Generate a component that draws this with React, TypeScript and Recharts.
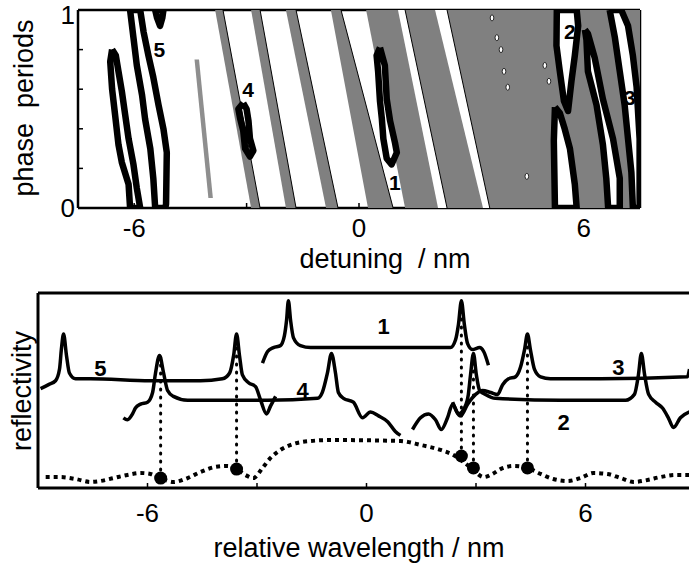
import React from 'react';
import {
  ScatterChart,
  Scatter,
  ComposedChart,
  Line,
  XAxis,
  YAxis,
  ReferenceDot,
  ReferenceLine,
} from 'recharts';

const FONT = '"Liberation Sans", Arial, Helvetica, sans-serif';
const GRAY = '#808080';

type P = [number, number];

// ---------- top panel: detuning vs phase map ----------
const xTicks = [-6, -3, 0, 3, 6];
const xLabeled = [-6, 0, 6];
const phaseTicks = [0, 0.2, 0.4, 0.6, 0.8, 1];

// gray bands in the white part (corners: top-left, top-right, bottom-right, bottom-left)
const shortStripe: P[] = [[-4.39, 0.75], [-4.27, 0.75], [-3.9, 0.05], [-4.02, 0.05]];
const grayStripes: P[][] = [
  [[-3.84, 1], [-3.63, 1], [-2.64, 0], [-2.88, 0]],
  [[-2.88, 1], [-2.64, 1], [-1.68, 0], [-1.95, 0]],
  [[-1.95, 1], [-1.68, 1], [-0.56, 0], [-0.88, 0]],
  [[-0.75, 1], [-0.48, 1], [0.91, 0], [0.24, 0]],
];
const grayField: P[] = [[0.19, 1], [7.5, 1], [7.5, 0], [1.23, 0]];
const whiteStripes: P[][] = [
  [[1.04, 1], [1.23, 1], [2.35, 0], [2.11, 0]],
  [[2.03, 1], [2.35, 1], [3.49, 0], [3.31, 0]],
];
const specks: P[] = [[3.55, 0.96], [3.68, 0.86], [3.79, 0.8], [3.87, 0.69], [3.97, 0.61], [4.96, 0.72], [5.07, 0.64], [4.48, 0.16]];

// thick contour loops
const contour5a: P[] = [[-6.59, 0.8], [-6.49, 0.77], [-6.42, 0.69], [-6.33, 0.59], [-6.24, 0.47], [-6.15, 0.35], [-6.02, 0.22], [-5.93, 0.1], [-5.84, 0], [-6.11, 0], [-6.15, 0.12], [-6.33, 0.23], [-6.42, 0.32], [-6.51, 0.47], [-6.59, 0.6], [-6.64, 0.74], [-6.59, 0.8]];
const contour5b: P[] = [[-6.11, 1], [-5.84, 1], [-5.75, 0.89], [-5.62, 0.77], [-5.49, 0.66], [-5.35, 0.52], [-5.22, 0.4], [-5.13, 0.28], [-5.15, 0.02], [-5.17, 0], [-5.44, 0], [-5.49, 0.15], [-5.57, 0.3], [-5.71, 0.45], [-5.79, 0.57], [-5.93, 0.72], [-6.02, 0.86], [-6.11, 1]];
const contour5c: P[] = [[-5.44, 1], [-5.22, 1], [-5.25, 0.96], [-5.31, 0.92], [-5.39, 0.96], [-5.44, 1]];
const contour4: P[] = [[-3.09, 0.53], [-3.22, 0.5], [-3.17, 0.45], [-3.09, 0.39], [-3.04, 0.3], [-2.91, 0.26], [-2.82, 0.29], [-2.91, 0.35], [-2.95, 0.44], [-3.0, 0.5], [-3.09, 0.53]];
const contour1: P[] = [[0.56, 0.81], [0.69, 0.72], [0.74, 0.55], [0.83, 0.44], [0.96, 0.33], [1.01, 0.28], [0.87, 0.22], [0.74, 0.25], [0.65, 0.35], [0.61, 0.45], [0.56, 0.54], [0.51, 0.69], [0.47, 0.77], [0.56, 0.81]];
const contour2a: P[] = [[5.28, 1], [5.81, 1], [5.85, 0.92], [5.76, 0.77], [5.67, 0.64], [5.58, 0.49], [5.47, 0.54], [5.36, 0.69], [5.27, 0.82], [5.28, 1]];
const contour2b: P[] = [[5.23, 0.51], [5.36, 0.48], [5.49, 0.4], [5.63, 0.3], [5.76, 0.12], [5.81, 0], [5.23, 0], [5.2, 0.34], [5.23, 0.51]];
const contourV: P[] = [[6.03, 0.9], [6.11, 0.88], [6.29, 0.76], [6.51, 0.55], [6.78, 0.35], [6.96, 0.15], [6.96, 0], [6.65, 0], [6.6, 0.15], [6.51, 0.32], [6.34, 0.52], [6.11, 0.69], [6.07, 0.85], [6.03, 0.9]];
const contour3: P[] = [[6.69, 1], [7.0, 1], [7.18, 0.92], [7.31, 0.77], [7.41, 0.61], [7.49, 0.35], [7.49, 0], [7.31, 0], [7.27, 0.18], [7.18, 0.35], [7.09, 0.52], [6.96, 0.69], [6.83, 0.86], [6.69, 1]];

const topLabels: [string, number, number][] = [['5', -5.33, 0.8], ['4', -2.96, 0.6], ['1', 0.96, 0.13], ['2', 5.63, 0.89], ['3', 7.23, 0.56]];

// ---------- bottom panel: reflectivity spectra ----------
const curve5: P[] = [[-8.93, 0.51], [-8.71, 0.53], [-8.52, 0.55], [-8.41, 0.61], [-8.36, 0.71], [-8.3, 0.79], [-8.22, 0.68], [-8.14, 0.59], [-7.97, 0.56], [-7.56, 0.56], [-5.92, 0.55], [-4.55, 0.55], [-3.95, 0.56], [-3.75, 0.59], [-3.64, 0.68], [-3.56, 0.79], [-3.48, 0.68], [-3.4, 0.58], [-3.23, 0.54], [-3.04, 0.52], [-2.9, 0.45], [-2.74, 0.38], [-2.63, 0.42], [-2.49, 0.47]];
const curve4: P[] = [[-6.66, 0.36], [-6.55, 0.35], [-6.41, 0.38], [-6.33, 0.41], [-6.19, 0.43], [-6.0, 0.44], [-5.86, 0.49], [-5.78, 0.59], [-5.67, 0.68], [-5.56, 0.59], [-5.45, 0.5], [-5.29, 0.47], [-4.9, 0.45], [-2.71, 0.45], [-1.34, 0.46], [-1.21, 0.49], [-1.07, 0.59], [-0.96, 0.69], [-0.85, 0.59], [-0.77, 0.49], [-0.63, 0.46], [-0.36, 0.44], [-0.11, 0.36], [0.11, 0.39], [0.33, 0.37], [0.58, 0.34], [0.79, 0.29], [0.93, 0.27]];
const curve1: P[] = [[-2.85, 0.64], [-2.71, 0.7], [-2.55, 0.72], [-2.36, 0.73], [-2.25, 0.78], [-2.19, 0.86], [-2.14, 0.96], [-2.08, 0.86], [-2.0, 0.77], [-1.81, 0.73], [-1.53, 0.72], [2.3, 0.72], [2.44, 0.76], [2.52, 0.84], [2.6, 0.96], [2.68, 0.84], [2.77, 0.74], [2.9, 0.71], [3.1, 0.72], [3.21, 0.7], [3.34, 0.63]];
const curve2: P[] = [[1.26, 0.3], [1.48, 0.36], [1.7, 0.38], [1.89, 0.35], [2.05, 0.3], [2.22, 0.36], [2.36, 0.43], [2.52, 0.38], [2.68, 0.41], [2.79, 0.48], [2.85, 0.58], [2.93, 0.69], [3.01, 0.58], [3.1, 0.5], [3.26, 0.48], [3.53, 0.46], [5.32, 0.45], [7.1, 0.45], [7.34, 0.48], [7.45, 0.58], [7.53, 0.69], [7.62, 0.58], [7.73, 0.48], [7.92, 0.44], [8.11, 0.41], [8.27, 0.36], [8.41, 0.31], [8.6, 0.36], [8.85, 0.39]];
const curve3: P[] = [[2.36, 0.44], [2.58, 0.37], [2.77, 0.43], [2.99, 0.48], [3.18, 0.5], [3.4, 0.49], [3.59, 0.48], [3.73, 0.53], [3.89, 0.56], [4.08, 0.57], [4.22, 0.62], [4.33, 0.71], [4.41, 0.79], [4.49, 0.71], [4.6, 0.61], [4.77, 0.57], [5.04, 0.56], [6.41, 0.56], [8.79, 0.57], [8.85, 0.61]];
const baseCurve: P[] = [[-8.79, 0.056], [-8.38, 0.056], [-7.97, 0.046], [-7.56, 0.031], [-7.29, 0.036], [-6.93, 0.051], [-6.55, 0.067], [-6.19, 0.077], [-5.92, 0.072], [-5.64, 0.051], [-5.29, 0.031], [-4.9, 0.051], [-4.55, 0.082], [-4.14, 0.108], [-3.81, 0.113], [-3.56, 0.097], [-3.32, 0.067], [-3.1, 0.051], [-2.85, 0.103], [-2.63, 0.154], [-2.36, 0.195], [-2.0, 0.226], [-1.53, 0.241], [-0.99, 0.246], [0.93, 0.241], [1.48, 0.221], [2.03, 0.195], [2.38, 0.169], [2.66, 0.133], [2.93, 0.092], [3.21, 0.056], [3.45, 0.072], [3.67, 0.097], [4.03, 0.113], [4.41, 0.103], [4.77, 0.072], [5.12, 0.046], [5.51, 0.036], [5.86, 0.051], [6.22, 0.077], [6.6, 0.072], [6.96, 0.051], [7.32, 0.031], [7.7, 0.041], [8.05, 0.056], [8.47, 0.067], [8.85, 0.067]];

// resonance markers: wavelength, marker height, peak height
const markerX = [-5.64, -3.56, 2.6, 2.93, 4.41];
const markerY = [0.051, 0.097, 0.164, 0.103, 0.103];
const peakY = [0.68, 0.79, 0.96, 0.69, 0.79];

const bottomLabels: [string, number, number][] = [['5', -7.29, 0.615], ['4', -1.75, 0.5], ['1', 0.47, 0.83], ['3', 6.9, 0.62], ['2', 5.4, 0.34]];

const toPts = (arr: P[]) => arr.map(([x, y]) => ({ x, y }));

const axisLine = { stroke: '#000', strokeWidth: 2.5 };
const tickLine = { stroke: '#000', strokeWidth: 1.5 };
const tickFont = { fill: '#000', fontSize: 26, fontFamily: FONT };
const fmtX = (v: number) => (xLabeled.includes(v) ? String(v) : '');
const fmtPhase = (v: number) => (v === 0 || v === 1 ? String(v) : '');

const hidden = () => <g />;

// closed outline drawn as a scatter "line" so it goes through the axis scales
function poly(key: string, pts: P[], fill: string, stroke = 'none', width = 0) {
  return (
    <Scatter
      key={key}
      data={toPts(pts)}
      shape={hidden}
      line={{ fill, stroke, strokeWidth: width, strokeLinejoin: 'round' }}
      isAnimationActive={false}
    />
  );
}

function PhaseMap() {
  const contours: [string, P[], string][] = [
    ['c5a', contour5a, 'none'],
    ['c5b', contour5b, 'none'],
    ['c5c', contour5c, '#fff'],
    ['c4', contour4, 'none'],
    ['c1', contour1, '#fff'],
    ['c2a', contour2a, '#fff'],
    ['c2b', contour2b, '#fff'],
    ['cv', contourV, '#fff'],
    ['c3', contour3, '#fff'],
  ];
  return (
    <ScatterChart width={689} height={280} margin={{ top: 9, right: 48, bottom: 42, left: 0 }}>
      {poly('sa', shortStripe, '#8e8e8e')}
      {grayStripes.map((s, i) => poly('g' + i, s, GRAY))}
      {poly('field', grayField, GRAY)}
      {whiteStripes.map((s, i) => poly('w' + i, s, '#fff'))}
      {grayStripes.map((s, i) => poly('ge' + i, [s[1], s[2]], 'none', '#000', 1))}
      {whiteStripes.map((s, i) => poly('we' + i, [s[1], s[2]], 'none', '#000', 1))}
      <Scatter
        data={toPts(specks)}
        isAnimationActive={false}
        shape={(p: any) => <ellipse cx={p.cx} cy={p.cy} rx={1.8} ry={3} fill="#fff" stroke="#000" strokeWidth={0.8} />}
      />
      {contours.map(([k, pts, fill]) => poly(k, pts, fill, '#000', 6.5))}
      {topLabels.map(([t, x, y]) => (
        <ReferenceDot
          key={'tl' + t}
          x={x}
          y={y}
          r={0}
          fill="none"
          stroke="none"
          label={{ value: t, position: 'center', fontSize: 21, fontWeight: 'bold', fontFamily: FONT, fill: '#000' }}
        />
      ))}
      <XAxis
        type="number"
        dataKey="x"
        domain={[-7.5, 7.5]}
        allowDataOverflow
        ticks={xTicks}
        tickFormatter={fmtX}
        tickSize={-5}
        tickMargin={16}
        height={30}
        axisLine={axisLine}
        tickLine={tickLine}
        tick={tickFont}
      />
      <XAxis
        xAxisId="top"
        orientation="top"
        type="number"
        domain={[-7.5, 7.5]}
        allowDataOverflow
        ticks={xTicks}
        tick={false}
        tickSize={-5}
        height={1}
        axisLine={axisLine}
        tickLine={tickLine}
      />
      <YAxis
        type="number"
        dataKey="y"
        domain={[0, 1]}
        allowDataOverflow
        ticks={phaseTicks}
        tickFormatter={fmtPhase}
        tickSize={-5}
        tickMargin={8}
        width={78}
        axisLine={axisLine}
        tickLine={tickLine}
        tick={tickFont}
      />
      <YAxis
        yAxisId="r"
        orientation="right"
        type="number"
        domain={[0, 1]}
        allowDataOverflow
        ticks={phaseTicks}
        tick={false}
        tickSize={-5}
        width={1}
        axisLine={axisLine}
        tickLine={tickLine}
      />
    </ScatterChart>
  );
}

function Spectra() {
  const curves: [string, P[]][] = [
    ['c5', curve5],
    ['c4', curve4],
    ['c1', curve1],
    ['c2', curve2],
    ['c3', curve3],
  ];
  return (
    <ComposedChart width={700} height={283} margin={{ top: 12, right: 5, bottom: 45, left: 0 }}>
      <Line
        data={toPts(baseCurve)}
        dataKey="y"
        type="monotone"
        stroke="#000"
        strokeWidth={4}
        strokeDasharray="4 4"
        dot={false}
        activeDot={false}
        isAnimationActive={false}
      />
      {curves.map(([k, pts]) => (
        <Line
          key={k}
          data={toPts(pts)}
          dataKey="y"
          type="monotone"
          stroke="#000"
          strokeWidth={3.5}
          dot={false}
          activeDot={false}
          isAnimationActive={false}
        />
      ))}
      {markerX.map((x, i) => (
        <ReferenceLine
          key={'v' + i}
          segment={[{ x, y: markerY[i] }, { x, y: peakY[i] }]}
          stroke="#000"
          strokeWidth={3}
          strokeDasharray="1 7"
          strokeLinecap="round"
        />
      ))}
      {markerX.map((x, i) => (
        <ReferenceDot key={'d' + i} x={x} y={markerY[i]} r={6.5} fill="#000" stroke="none" />
      ))}
      {bottomLabels.map(([t, x, y]) => (
        <ReferenceDot
          key={'bl' + t}
          x={x}
          y={y}
          r={0}
          fill="none"
          stroke="none"
          label={{ value: t, position: 'center', fontSize: 22, fontWeight: 'bold', fontFamily: FONT, fill: '#000' }}
        />
      ))}
      <XAxis
        type="number"
        dataKey="x"
        domain={[-9, 9]}
        allowDataOverflow
        ticks={xTicks}
        tickFormatter={fmtX}
        tickSize={-5}
        tickMargin={21}
        height={30}
        axisLine={{ stroke: '#000', strokeWidth: 3 }}
        tickLine={tickLine}
        tick={tickFont}
      />
      <XAxis
        xAxisId="top"
        orientation="top"
        type="number"
        domain={[-9, 9]}
        allowDataOverflow
        ticks={xTicks}
        tick={false}
        tickSize={-5}
        height={1}
        axisLine={{ stroke: '#000', strokeWidth: 3 }}
        tickLine={tickLine}
      />
      <YAxis
        type="number"
        domain={[0, 1]}
        allowDataOverflow
        tick={false}
        tickLine={false}
        width={38}
        axisLine={{ stroke: '#000', strokeWidth: 3 }}
      />
    </ComposedChart>
  );
}

const titleStyle: React.CSSProperties = {
  position: 'absolute',
  fontFamily: FONT,
  fontSize: 27,
  lineHeight: 1,
  whiteSpace: 'pre',
  color: '#000',
};

export default function App() {
  return (
    <div style={{ position: 'fixed', left: 0, top: 0, width: 689, height: 563, overflow: 'hidden', background: '#fff' }}>
      <div style={{ position: 'absolute', left: 0, top: 0 }}>
        <PhaseMap />
      </div>
      <div style={{ position: 'absolute', left: 0, top: 280 }}>
        <Spectra />
      </div>
      <div style={{ ...titleStyle, left: 385, top: 259, transform: 'translate(-50%, -50%)' }}>detuning  / nm</div>
      <div style={{ ...titleStyle, left: 359, top: 548, transform: 'translate(-50%, -50%)' }}>relative wavelength / nm</div>
      <div style={{ ...titleStyle, left: 24, top: 108, transform: 'translate(-50%, -50%) rotate(-90deg)' }}>phase  periods</div>
      <div style={{ ...titleStyle, left: 22, top: 391, transform: 'translate(-50%, -50%) rotate(-90deg)' }}>reflectivity</div>
    </div>
  );
}
